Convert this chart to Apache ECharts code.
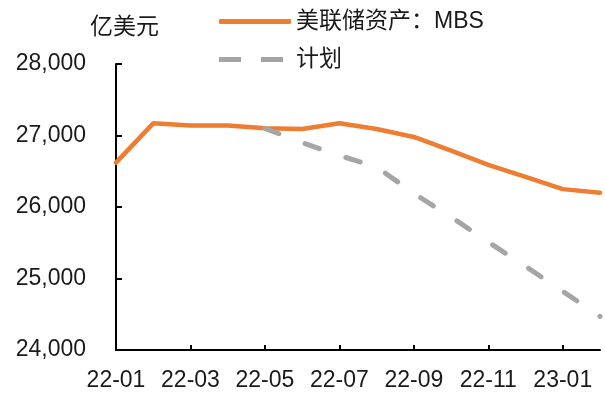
<!DOCTYPE html>
<html>
<head>
<meta charset="utf-8">
<script src="https://cdn.jsdelivr.net/npm/echarts@6/dist/echarts.min.js"></script>
<style>
  html, body { margin: 0; padding: 0; background: #fff; }
  #chart { width: 605px; height: 394px; }
</style>
</head>
<body>
<div id="chart"></div>
<script>
// Monthly categories
const months = ['22-01','22-02','22-03','22-04','22-05','22-06','22-07',
                '22-08','22-09','22-10','22-11','22-12','23-01','23-02'];
// Fed holdings of MBS (100 million USD)
const mbsActual = [26620, 27170, 27140, 27140, 27100, 27090, 27170,
                   27090, 26980, 26790, 26590, 26420, 26250, 26200];
// Runoff plan path, starting from 22-05
const mbsPlan = [null, null, null, null, 27100, 26900, 26720,
                 26560, 26190, 25860, 25510, 25170, 24820, 24470];
const seriesNames = ['美联储资产：MBS', '计划'];
const unitLabel = '亿美元';
const yTicks = { min: 24000, max: 28000, step: 1000 };

const FONT = '"Liberation Sans", Arial, "Noto Sans CJK SC", sans-serif';
// Legend glyphs: a solid bar and two short dashes (last subpath only widens the box)
const SOLID_ICON = 'roundRect';
const DASH_ICON = 'path://M0,0 H22 V5 H0 Z M42,0 H64 V5 H42 Z M72,0 L72,5 L72,5 Z';

const chart = echarts.init(document.getElementById('chart'), null, { renderer: 'canvas' });

chart.setOption({
  animation: false,
  backgroundColor: '#ffffff',
  title: {
    text: unitLabel,
    left: 85,
    top: 11,
    textStyle: { fontFamily: FONT, fontSize: 23, fontWeight: 'normal', color: '#1a1a1a' }
  },
  legend: {
    orient: 'vertical',
    left: 214,
    top: 5,
    itemWidth: 72,
    itemHeight: 5,
    itemGap: 15,
    textStyle: { fontFamily: FONT, fontSize: 23, color: '#1a1a1a' },
    data: [
      { name: seriesNames[0], icon: SOLID_ICON },
      { name: seriesNames[1], icon: DASH_ICON }
    ]
  },
  grid: { left: 116, right: 5, top: 64, bottom: 44, containLabel: false },
  xAxis: {
    type: 'category',
    data: months,
    boundaryGap: false,
    axisLine: { lineStyle: { color: '#000', width: 2 } },
    axisTick: { show: true, inside: true, length: 5, interval: 1, lineStyle: { color: '#000', width: 2 } },
    axisLabel: { interval: 1, margin: 19, fontFamily: FONT, fontSize: 23, color: '#1a1a1a' }
  },
  yAxis: {
    type: 'value',
    min: yTicks.min,
    max: yTicks.max,
    interval: yTicks.step,
    splitLine: { show: false },
    axisLine: { show: true, lineStyle: { color: '#000', width: 2 } },
    axisTick: { show: true, inside: true, length: 6, lineStyle: { color: '#000', width: 2 } },
    axisLabel: {
      margin: 30,
      fontFamily: FONT,
      fontSize: 23,
      color: '#1a1a1a',
      formatter: v => v.toLocaleString('en-US')
    }
  },
  series: [
    {
      name: seriesNames[0],
      type: 'line',
      data: mbsActual,
      symbol: 'none',
      lineStyle: { color: '#ED7D31', width: 4.5, cap: 'round', join: 'round' },
      itemStyle: { color: '#ED7D31' },
      z: 2
    },
    {
      name: seriesNames[1],
      type: 'line',
      data: mbsPlan,
      symbol: 'none',
      connectNulls: false,
      lineStyle: { color: '#A5A5A5', width: 5, type: [15, 28], cap: 'round', join: 'round' },
      itemStyle: { color: '#A5A5A5' },
      z: 3
    }
  ]
});
</script>
</body>
</html>
